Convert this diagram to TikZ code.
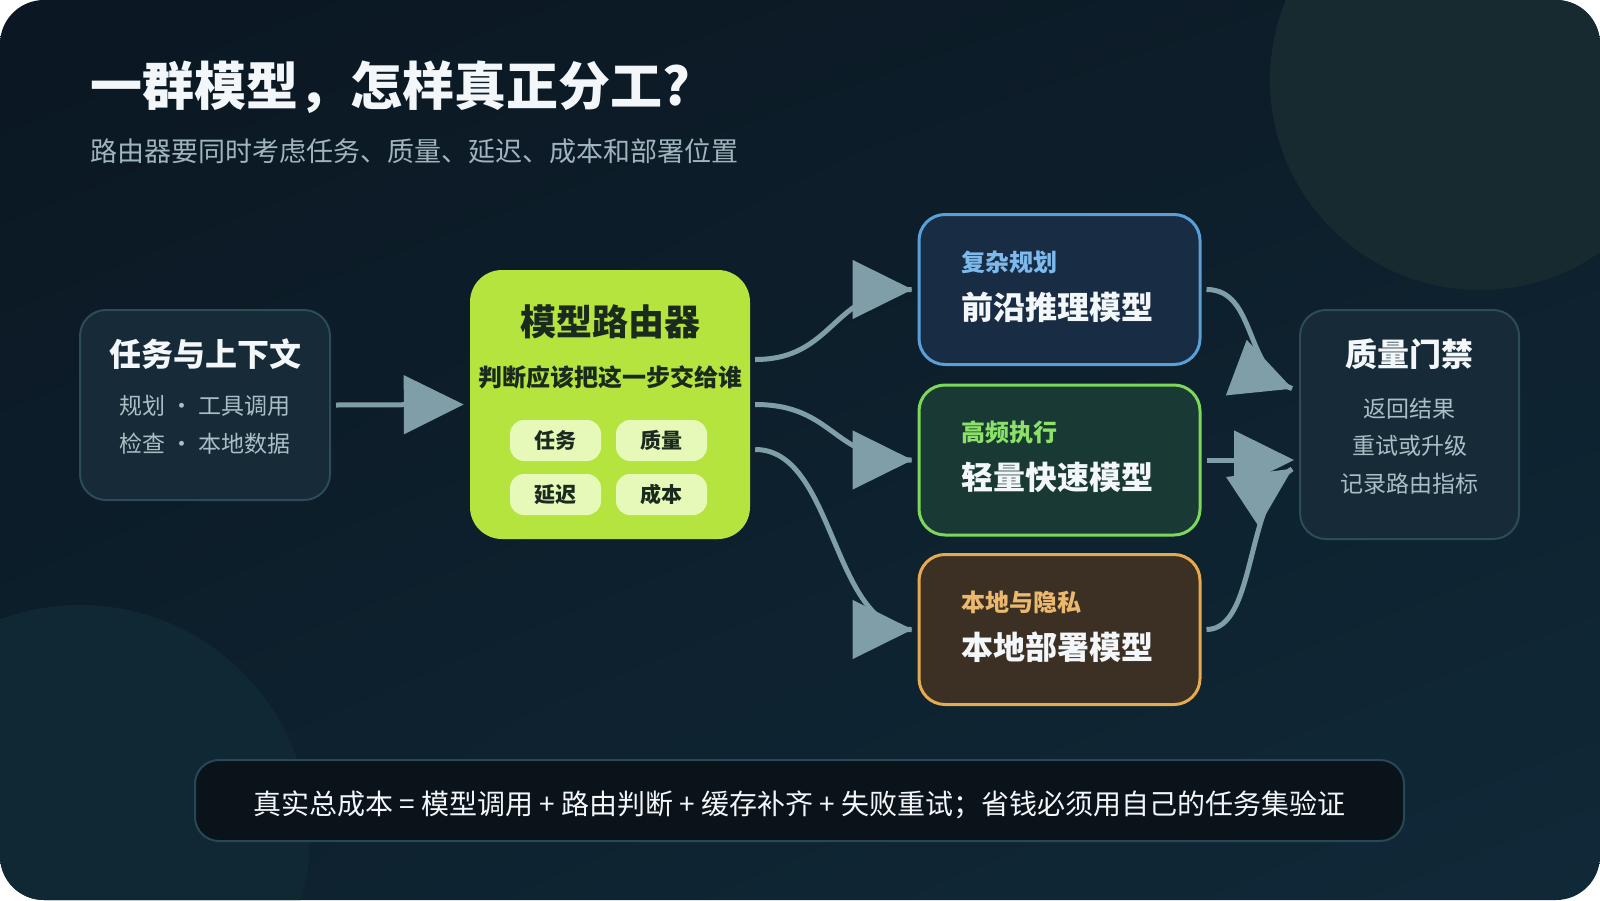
\documentclass[tikz,border=0pt]{standalone}
\usepackage{fontspec}
\setmainfont{Noto Sans CJK SC}
\usetikzlibrary{arrows.meta, calc, shadings}

\begin{document}
\begin{tikzpicture}[x=1pt,y=-1pt,
  panel/.style={draw=panelline, line width=2pt, fill=panelfill, rounded corners=26pt, inner sep=0pt},
  card/.style={line width=3pt, rounded corners=26pt, minimum width=281pt, minimum height=150pt, inner sep=0pt},
  chip/.style={fill=chiplime, rounded corners=14pt, minimum width=91pt, minimum height=41pt, inner sep=0pt, text=routerink, font=\fontsize{21}{24}\selectfont\bfseries},
  head/.style={inner sep=0pt, text=inkwhite, font=\fontsize{32}{38}\selectfont\bfseries},
  body/.style={inner sep=0pt, text=bodygray, font=\fontsize{23}{28}\selectfont},
  tag/.style={anchor=west, inner sep=0pt, font=\fontsize{24}{28}\selectfont\bfseries},
  mname/.style={anchor=west, inner sep=0pt, text=inkwhite, font=\fontsize{32}{38}\selectfont\bfseries},
  flow/.style={draw=flowgray, line width=5pt, -{Triangle[length=60pt,width=58pt]}}]
  \definecolor{bgA}{RGB}{11,23,34}
  \definecolor{bgB}{RGB}{13,30,42}
  \definecolor{bgC}{RGB}{13,33,46}
  \definecolor{bgD}{RGB}{16,41,56}
  \definecolor{glowA}{RGB}{23,42,47}
  \definecolor{glowB}{RGB}{16,40,52}
  \definecolor{panelfill}{RGB}{22,42,55}
  \definecolor{panelline}{RGB}{45,75,88}
  \definecolor{inkwhite}{RGB}{243,247,249}
  \definecolor{subgray}{RGB}{160,180,190}
  \definecolor{bodygray}{RGB}{170,190,198}
  \definecolor{lime}{RGB}{181,228,63}
  \definecolor{chiplime}{RGB}{230,249,185}
  \definecolor{routerink}{RGB}{26,42,30}
  \definecolor{planline}{RGB}{90,160,215}
  \definecolor{planfill}{RGB}{24,44,68}
  \definecolor{plantext}{RGB}{125,185,235}
  \definecolor{fastline}{RGB}{125,215,90}
  \definecolor{fastfill}{RGB}{25,58,52}
  \definecolor{fasttext}{RGB}{140,225,105}
  \definecolor{premline}{RGB}{230,170,80}
  \definecolor{premfill}{RGB}{60,47,36}
  \definecolor{premtext}{RGB}{235,185,110}
  \definecolor{flowgray}{RGB}{127,158,168}
  \definecolor{barfill}{RGB}{10,18,26}
  \definecolor{barline}{RGB}{40,72,86}
  \useasboundingbox (0,0) rectangle (1600,900);
  \fill[white] (0,0) rectangle (1600,900);
  \begin{scope}
    \clip[rounded corners=44pt] (0,0) rectangle (1600,900);
    \shade[upper left=bgA, upper right=bgB, lower left=bgC, lower right=bgD] (0,0) rectangle (1600,900);
    \fill[glowA] (1480,80) circle (210);
    \fill[glowB] (80,835) circle (230);
  \end{scope}

  \node[anchor=west, inner sep=0pt, text=inkwhite, font=\fontsize{52}{60}\selectfont\bfseries] (title) at (90,87) {一群模型，怎样真正分工?};
  \node[anchor=west, inner sep=0pt, text=subgray, font=\fontsize{27}{32}\selectfont] (subtitle) at (90,151) {路由器要同时考虑任务、质量、延迟、成本和部署位置};

  \node[panel, minimum width=250pt, minimum height=190pt] (task) at (205,405) {};
  \node[head] (taskhead) at (205,354) {任务与上下文};
  \node[body] (tasklineA) at (205,406) {规划 · 工具调用};
  \node[body] (tasklineB) at (205,444) {检查 · 本地数据};

  \node[fill=lime, rounded corners=32pt, minimum width=280pt, minimum height=269pt, inner sep=0pt] (router) at (610,404.5) {};
  \node[inner sep=0pt, text=routerink, font=\fontsize{36}{40}\selectfont\bfseries] (routerhead) at (610,322) {模型路由器};
  \node[inner sep=0pt, text=routerink, font=\fontsize{24}{28}\selectfont\bfseries] (routersub) at (610,377) {判断应该把这一步交给谁};
  \node[chip] (chiptask) at (555.5,440.5) {任务};
  \node[chip] (chipquality) at (661.5,440.5) {质量};
  \node[chip] (chiplatency) at (555.5,494.5) {延迟};
  \node[chip] (chipcost) at (661.5,494.5) {成本};

  \node[card, draw=planline, fill=planfill] (plan) at (1059.5,289.5) {};
  \node[tag, text=plantext] (plantag) at (961,262) {复杂规划};
  \node[mname] (planname) at (961,307) {前沿推理模型};
  \node[card, draw=fastline, fill=fastfill] (fast) at (1059.5,460) {};
  \node[tag, text=fasttext] (fasttag) at (961,432.5) {高频执行};
  \node[mname] (fastname) at (961,477.5) {轻量快速模型};
  \node[card, draw=premline, fill=premfill] (onprem) at (1059.5,629.5) {};
  \node[tag, text=premtext] (premtag) at (961,602) {本地与隐私};
  \node[mname] (premname) at (961,647) {本地部署模型};

  \node[panel, minimum width=219pt, minimum height=229pt] (gate) at (1409.5,424.5) {};
  \node[head] (gatehead) at (1409.5,354) {质量门禁};
  \node[body] (gatelineA) at (1409.5,409) {返回结果};
  \node[body] (gatelineB) at (1409.5,446) {重试或升级};
  \node[body] (gatelineC) at (1409.5,484) {记录路由指标};

  \node[draw=barline, line width=2pt, fill=barfill, rounded corners=24pt, minimum width=1209pt, minimum height=81pt, inner sep=0pt, text height=30pt, text depth=2pt, text=inkwhite, font=\fontsize{28}{32}\selectfont] (summary) at (799.5,800.5) {真实总成本 = 模型调用 + 路由判断 + 缓存补齐 + 失败重试；省钱必须用自己的任务集验证};

  \coordinate (rA) at ([xshift=5pt,yshift=45pt]router.east);
  \coordinate (rB) at ([xshift=5pt]router.east);
  \coordinate (rC) at ([xshift=5pt,yshift=-45pt]router.east);
  \coordinate (gA) at ([shift={(-7,-36)}]gate.west);
  \coordinate (gB) at ([shift={(-5,35.5)}]gate.west);
  \coordinate (gC) at ([shift={(-7,44.5)}]gate.west);

  \draw[flow] ([xshift=5pt]task.east) -- ([xshift=-6pt]router.west);
  \draw[flow] (rA) .. controls +(80,0) and +(-80,0) .. ([xshift=-6pt]plan.west) -- ([xshift=-5pt]plan.west);
  \draw[flow] (rB) .. controls +(80,0) and +(-80,0) .. ([xshift=-6pt]fast.west) -- ([xshift=-5pt]fast.west);
  \draw[flow] (rC) .. controls +(80,0) and +(-80,0) .. ([xshift=-6pt]onprem.west) -- ([xshift=-5pt]onprem.west);
  \draw[flow] ([xshift=5pt]plan.east) .. controls +(50,0) and +(-48,-18) .. (gA) -- +(0.48,0.18);
  \draw[flow] ([xshift=5pt]fast.east) -- (gB);
  \draw[flow] ([xshift=5pt]onprem.east) .. controls +(50,0) and +(-47,31) .. (gC) -- +(0.47,-0.31);
\end{tikzpicture}
\end{document}
